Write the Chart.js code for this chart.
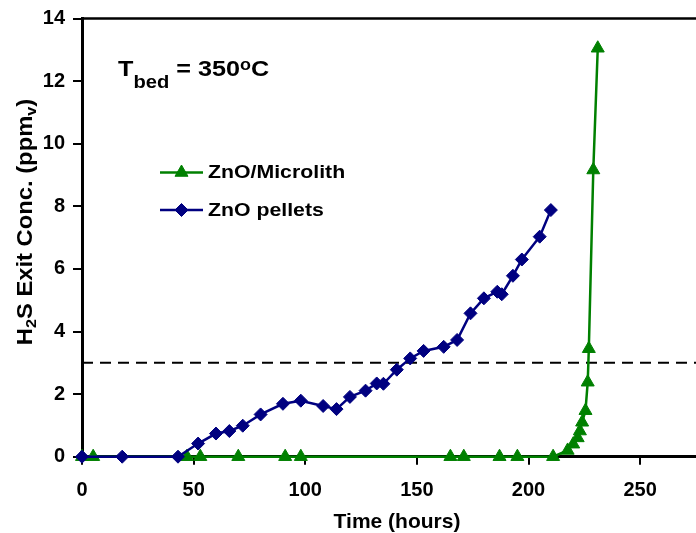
<!DOCTYPE html>
<html>
<head>
<meta charset="utf-8">
<script src="https://cdn.jsdelivr.net/npm/chart.js@4.4.0/dist/chart.umd.min.js"></script>
<style>
  html, body { margin: 0; padding: 0; background: #fff; }
  #wrap { width: 696px; height: 533px; position: relative; }
</style>
</head>
<body>
<div id="wrap"><canvas id="h2s-chart"></canvas></div>
<script>
// H2S exit concentration vs time on stream
const pelletHours = [0, 18, 43, 52, 60, 66, 72, 80, 90, 98, 108, 114, 120, 127, 132, 135, 141, 147, 153, 162, 168, 174, 180, 186, 188, 193, 197, 205, 210];
const pelletConc = [0, 0, 0, 0.42, 0.74, 0.82, 0.99, 1.35, 1.69, 1.79, 1.62, 1.52, 1.91, 2.11, 2.34, 2.33, 2.78, 3.14, 3.38, 3.51, 3.73, 4.58, 5.06, 5.27, 5.19, 5.78, 6.30, 7.03, 7.88];
const microlithHours = [0, 5, 47, 53, 70, 91, 98, 165, 171, 187, 195, 211, 217.5, 220, 222, 223, 224, 225.5, 226.5, 227, 229, 231];
const microlithConc = [0, 0, 0, 0, 0, 0, 0, 0, 0, 0, 0, 0, 0.2, 0.4, 0.6, 0.82, 1.1, 1.47, 2.38, 3.45, 9.16, 13.05];
const breakthroughLevel = 3;
const timeRange = [0, 275];
const concRange = [0, 14];
const timeTicks = [0, 50, 100, 150, 200, 250];
const concTicks = [0, 2, 4, 6, 8, 10, 12, 14];

const FONT = 'Liberation Sans, Arial, sans-serif';
const GREEN = '#008000';
const NAVY = '#000080';

function toPoints(xs, ys) {
    return xs.map((x, i) => ({ x: x, y: ys[i] }));
}

function fixedTicks(values) {
    return function(scale) {
        scale.ticks = values.map(v => ({ value: v }));
    };
}

// draws a run of text pieces with their own size and baseline shift
function drawRuns(ctx, runs, x, y) {
    let cx = x;
    runs.forEach(r => {
        ctx.font = 'bold ' + r.size + 'px ' + FONT;
        ctx.fillText(r.text, cx, y + (r.dy || 0));
        cx += ctx.measureText(r.text).width;
    });
}

function runsWidth(ctx, runs) {
    return runs.reduce((w, r) => {
        ctx.font = 'bold ' + r.size + 'px ' + FONT;
        return w + ctx.measureText(r.text).width;
    }, 0);
}

const decorations = {
    id: 'decorations',
    afterDraw(chart) {
        const ctx = chart.ctx;
        const area = chart.chartArea;
        ctx.save();

        // top frame line
        ctx.strokeStyle = '#000';
        ctx.lineWidth = 2.5;
        ctx.beginPath();
        ctx.moveTo(area.left, area.top);
        ctx.lineTo(area.right, area.top);
        ctx.stroke();

        ctx.fillStyle = '#000';
        ctx.textBaseline = 'alphabetic';
        ctx.textAlign = 'left';

        // x axis title
        const xTitle = [{ text: 'Time (hours)', size: 21 }];
        drawRuns(ctx, xTitle, 397 - runsWidth(ctx, xTitle) / 2, 528);

        // y axis title, rotated
        const yTitle = [
            { text: 'H', size: 22 },
            { text: '2', size: 15, dy: 4 },
            { text: 'S Exit Conc. (ppm', size: 22 },
            { text: 'v', size: 15, dy: 4 },
            { text: ')', size: 22 }
        ];
        ctx.save();
        ctx.translate(32, 222);
        ctx.rotate(-Math.PI / 2);
        ctx.scale(1.08, 1);
        drawRuns(ctx, yTitle, -runsWidth(ctx, yTitle) / 2, 0);
        ctx.restore();

        // bed temperature label
        ctx.save();
        ctx.translate(118, 76);
        ctx.scale(1.12, 1);
        drawRuns(ctx, [
            { text: 'T', size: 22.5 },
            { text: 'bed', size: 18, dy: 12 },
            { text: ' = 350', size: 22.5 },
            { text: 'o', size: 16, dy: -6 },
            { text: 'C', size: 22.5 }
        ], 0, 0);
        ctx.restore();

        // legend
        const rows = [
            { ds: chart.data.datasets[0], y: 172.5 },
            { ds: chart.data.datasets[1], y: 210 }
        ];
        rows.forEach(row => {
            const ds = row.ds;
            ctx.strokeStyle = ds.borderColor;
            ctx.lineWidth = ds.borderWidth;
            ctx.beginPath();
            ctx.moveTo(160, row.y);
            ctx.lineTo(203, row.y);
            ctx.stroke();
            ctx.fillStyle = ds.pointBackgroundColor;
            ctx.strokeStyle = ds.pointBorderColor;
            ctx.lineWidth = ds.pointBorderWidth;
            Chart.helpers.drawPoint(ctx, {
                pointStyle: ds.pointStyle,
                radius: ds.pointRadius,
                rotation: 0,
                borderWidth: ds.pointBorderWidth
            }, 181.5, row.y);
            ctx.save();
            ctx.fillStyle = '#000';
            ctx.translate(208, row.y + 5.8);
            ctx.scale(1.12, 1);
            ctx.font = 'bold 19px ' + FONT;
            ctx.fillText(ds.label, 0, 0);
            ctx.restore();
        });

        ctx.restore();
    }
};

function buildChart() {
    const canvas = document.getElementById('h2s-chart');
    const tickFont = { family: FONT, size: 20, weight: 'bold' };

    return new Chart(canvas, {
        type: 'line',
        data: {
            datasets: [
                {
                    label: 'ZnO/Microlith',
                    data: toPoints(microlithHours, microlithConc),
                    borderColor: GREEN,
                    borderWidth: 2.5,
                    pointStyle: 'triangle',
                    pointRadius: 7.5,
                    pointBackgroundColor: GREEN,
                    pointBorderColor: GREEN,
                    pointBorderWidth: 1,
                    tension: 0,
                    clip: false,
                    order: 1
                },
                {
                    label: 'ZnO pellets',
                    data: toPoints(pelletHours, pelletConc),
                    borderColor: NAVY,
                    borderWidth: 2.5,
                    pointStyle: 'rectRot',
                    pointRadius: 6.5,
                    pointBackgroundColor: NAVY,
                    pointBorderColor: NAVY,
                    pointBorderWidth: 1,
                    tension: 0,
                    clip: false,
                    order: 0
                },
                {
                    label: 'limit',
                    data: timeRange.map(t => ({ x: t, y: breakthroughLevel })),
                    borderColor: '#000',
                    borderWidth: 2,
                    borderDash: [11, 7],
                    pointRadius: 0,
                    order: 2
                }
            ]
        },
        options: {
            responsive: true,
            maintainAspectRatio: false,
            animation: false,
            layout: { autoPadding: false, padding: { left: 0, right: 0, top: 18.5, bottom: 0 } },
            plugins: {
                legend: { display: false },
                tooltip: { enabled: false }
            },
            scales: {
                x: {
                    type: 'linear',
                    min: timeRange[0],
                    max: timeRange[1],
                    afterBuildTicks: fixedTicks(timeTicks),
                    afterFit(scale) {
                        scale.height = 76.3;
                        scale.paddingLeft = 0;
                        scale.paddingRight = 0;
                    },
                    border: { display: true, color: '#000', width: 3 },
                    grid: { drawOnChartArea: false, drawTicks: true, tickLength: 8, color: '#000', lineWidth: 2 },
                    ticks: { font: tickFont, color: '#000', padding: 14, maxRotation: 0 }
                },
                y: {
                    type: 'linear',
                    min: concRange[0],
                    max: concRange[1],
                    afterBuildTicks: fixedTicks(concTicks),
                    afterFit(scale) {
                        scale.width = 82;
                        scale.paddingTop = 0;
                        scale.paddingBottom = 0;
                    },
                    border: { display: true, color: '#000', width: 3 },
                    grid: { drawOnChartArea: false, drawTicks: true, tickLength: 9, color: '#000', lineWidth: 2 },
                    ticks: { font: tickFont, color: '#000', padding: 8 }
                }
            }
        },
        plugins: [decorations]
    });
}

buildChart();
</script>
</body>
</html>
